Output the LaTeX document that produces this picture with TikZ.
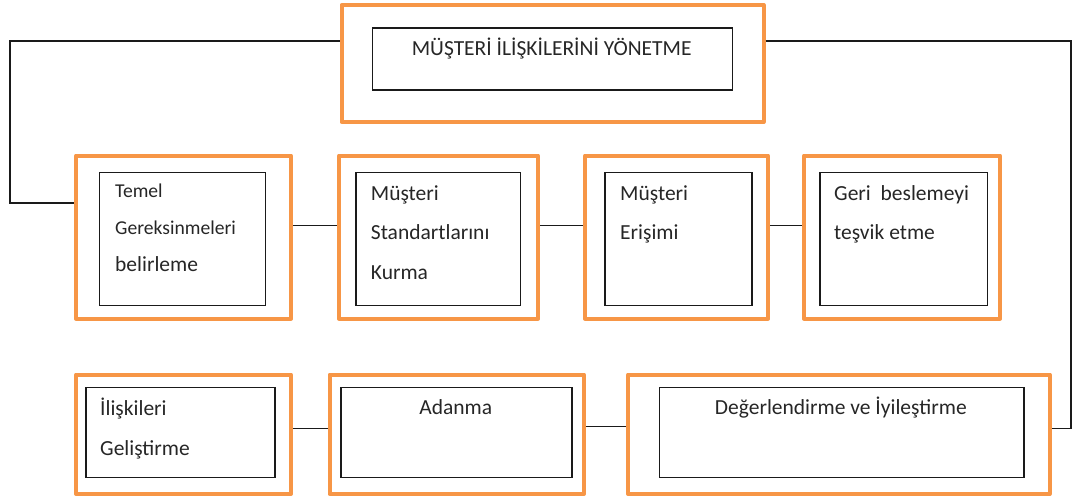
\documentclass[tikz,border=0pt]{standalone}
\usepackage{fontspec}
\setmainfont{Carlito}
\definecolor{boxorange}{HTML}{F79646}
\definecolor{txt}{HTML}{262626}
\definecolor{edge}{HTML}{1A1A1A}
\begin{document}
\begin{tikzpicture}[x=1pt,y=-1pt,
  obox/.style={draw=boxorange, line width=4pt, line join=round, rectangle, inner sep=0pt},
  ibox/.style={draw=edge, line width=1.4pt, rectangle, inner sep=0pt},
  link/.style={draw=edge, line width=1.2pt},
  lbl/.style={inner sep=0pt, text=txt, font=\fontsize{21.5}{25}\selectfont},
  slbl/.style={inner sep=0pt, text=txt, font=\fontsize{19.6}{23}\selectfont}]
\useasboundingbox (0,0) rectangle (1073,499);

% top
\node[obox, minimum width=422pt, minimum height=117pt] (o0) at (552.5,63.5) {};
\node[ibox, minimum width=360pt, minimum height=62pt] (i0) at (552.5,59) {};
\node[lbl, anchor=base] (t0) at (551.7,55) {MÜŞTERİ İLİŞKİLERİNİ YÖNETME};

% row 1
\node[obox, minimum width=215pt, minimum height=163pt] (o1) at (183.5,237) {};
\node[ibox, minimum width=166pt, minimum height=133pt] (i1) at (182.5,239) {};
\node[slbl, anchor=base west] (t1a) at (115,197.3) {Temel};
\node[slbl, anchor=base west] (t1b) at (115,234) {Gereksinmeleri};
\node[lbl, anchor=base west] (t1c) at (115,271.7) {belirleme};

\node[obox, minimum width=199pt, minimum height=163pt] (o2) at (438.5,237) {};
\node[ibox, minimum width=164.5pt, minimum height=133pt] (i2) at (438.25,239) {};
\node[lbl, anchor=base west] (t2a) at (370.7,200) {Müşteri};
\node[lbl, anchor=base west] (t2b) at (370.7,239) {Standartlarını};
\node[lbl, anchor=base west] (t2c) at (370.7,279) {Kurma};

\node[obox, minimum width=183pt, minimum height=163pt] (o3) at (676.5,237) {};
\node[ibox, minimum width=147pt, minimum height=133pt] (i3) at (678.5,239) {};
\node[lbl, anchor=base west] (t3a) at (620,200) {Müşteri};
\node[lbl, anchor=base west] (t3b) at (620,239) {Erişimi};

\node[obox, minimum width=196pt, minimum height=163pt] (o4) at (902,237) {};
\node[ibox, minimum width=167.5pt, minimum height=133pt] (i4) at (903.75,239) {};
\node[lbl, anchor=base west] (t4a) at (834,200) {Geri\ \ beslemeyi};
\node[lbl, anchor=base west] (t4b) at (834,239) {teşvik etme};

% row 2
\node[obox, minimum width=215pt, minimum height=119.5pt] (o5) at (183.5,434.25) {};
\node[ibox, minimum width=189pt, minimum height=90pt] (i5) at (180.5,432.5) {};
\node[lbl, anchor=base west] (t5a) at (100,415) {İlişkileri};
\node[lbl, anchor=base west] (t5b) at (100,455) {Geliştirme};

\node[obox, minimum width=254.5pt, minimum height=119.5pt] (o6) at (456.75,434.25) {};
\node[ibox, minimum width=231pt, minimum height=90pt] (i6) at (456.5,432.5) {};
\node[lbl, anchor=base] (t6) at (455.7,414) {Adanma};

\node[obox, minimum width=421.5pt, minimum height=119.5pt] (o7) at (838.75,434.25) {};
\node[ibox, minimum width=364.5pt, minimum height=90pt] (i7) at (841.75,432.5) {};
\node[lbl, anchor=base] (t7) at (840.8,414.3) {Değerlendirme ve İyileştirme};

% connectors
\coordinate (tl) at (10,41);
\coordinate (bl) at (10,203);
\coordinate (tr) at (1071,41);
\coordinate (br) at (1071,428.3);
\draw[link] (o0.west |- tl) -- (tl) -- (bl) -- (o1.west |- bl);
\draw[link] (o0.east |- tr) -- (tr) -- (br) -- (o7.east |- br);
\draw[link] ([yshift=11.3pt]o1.east) -- ([yshift=11.3pt]o2.west);
\draw[link] ([yshift=11.3pt]o2.east) -- ([yshift=11.3pt]o3.west);
\draw[link] ([yshift=11.3pt]o3.east) -- ([yshift=11.3pt]o4.west);
\draw[link] ([yshift=6pt]o5.east) -- ([yshift=6pt]o6.west);
\draw[link] ([yshift=7.5pt]o6.east) -- ([yshift=7.5pt]o7.west);
\end{tikzpicture}
\end{document}
